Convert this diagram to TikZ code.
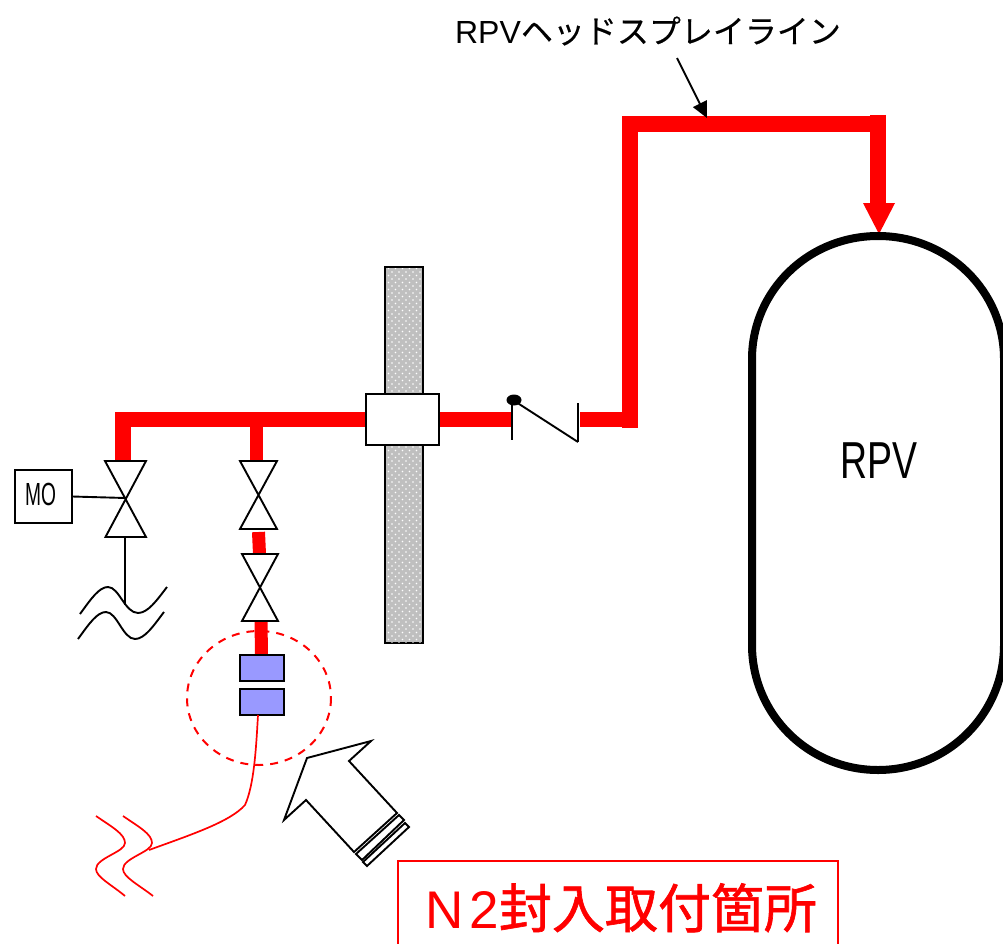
\documentclass[tikz,border=0pt]{standalone}
\usepackage{fontspec}
\usetikzlibrary{patterns,arrows.meta}
\setmainfont{Liberation Sans}
\newfontfamily\cjkfont[FakeBold=0.35]{Noto Sans CJK JP}
\newfontfamily\cjkbold[FakeBold=1.2]{Noto Sans CJK JP}
\newfontfamily\narrowfont[FakeStretch=0.72]{Liberation Sans}
\newfontfamily\narrowerfont[FakeStretch=0.6]{Liberation Sans}
\definecolor{pipered}{RGB}{255,0,0}
\definecolor{flangeblue}{RGB}{153,153,255}
\pgfdeclarepatternformonly{walldots}{\pgfqpoint{-1pt}{-1pt}}{\pgfqpoint{7pt}{7pt}}{\pgfqpoint{7pt}{7pt}}{%
  \pgfpathcircle{\pgfqpoint{0pt}{0pt}}{0.95pt}%
  \pgfpathcircle{\pgfqpoint{3.5pt}{3.5pt}}{0.95pt}%
  \pgfusepath{fill}}
\tikzset{
  pipe/.style={draw=pipered,line cap=butt,line join=miter},
  thickpipe/.style={pipe,line width=15.5pt},
  thinpipe/.style={pipe,line width=13pt},
  symbol/.style={draw=black,line width=1.9pt,fill=white,line join=miter},
  thinline/.style={draw=black,line width=1.9pt},
  wave/.style={draw=black,line width=1.9pt},
  redwave/.style={draw=pipered,line width=1.7pt},
  flange/.style={draw=black,line width=1.9pt,fill=flangeblue,minimum width=44pt,minimum height=26pt,inner sep=0pt,outer sep=0pt},
  wall/.style={draw=black,line width=1.8pt,fill=black!25},
  box/.style={draw=black,line width=1.8pt,fill=white,inner sep=0pt,outer sep=0pt},
}
\begin{document}
\begin{tikzpicture}[x=1pt,y=-1pt]
\useasboundingbox (0,0) rectangle (1003,944);
\clip (0,0) rectangle (1003,944);

% containment wall
\draw[wall] (385,267) rectangle (423,643);
\path[pattern=walldots,pattern color=white] (386,268) rectangle (422,642);

% pipes
\coordinate (v1top) at (123,461);
\coordinate (tee) at (256.5,419.5);
\coordinate (v2top) at (256.5,461);
\coordinate (chkL) at (511,419.5);
\coordinate (chkR) at (580,419.5);
\coordinate (riser) at (630,419.5);
\coordinate (riserB) at (630,428);
\coordinate (top2) at (878,124);
\coordinate (top2b) at (878,115);
\coordinate (drop) at (878,204);
\draw[thickpipe] (115.25,419.5) -- (chkL);
\draw[thickpipe] (v1top) -- (123,412);
\draw[thinpipe] (tee) -- (v2top);
\draw[thickpipe] (chkR) -- (riser);
\draw[thickpipe] (riserB) -- (630,116);
\draw[thickpipe] (622.25,124) -- (top2);
\draw[pipe,line width=16pt] (top2b) -- (drop);
\fill[pipered] (863,203) -- (895,203) -- (879,234) -- cycle;

\coordinate (p1a) at (258.5,532);
\coordinate (p1b) at (259.5,554);
\coordinate (p2a) at (261,621);
\coordinate (p2b) at (261.5,655);
\draw[thinpipe] (p1a) -- (p1b);
\draw[thinpipe] (p2a) -- (p2b);

% penetration
\node[box,minimum width=73pt,minimum height=51pt] (pen) at (402.5,419.5) {};

% check valve
\draw[thinline] (512,400) -- (512,440);
\draw[thinline] (578,403) -- (578,442);
\draw[thinline] (516,402) -- (578,442);
\fill (514,400) ellipse [x radius=7.5,y radius=5.5];

% valves
\draw[symbol] (105,461) -- (146,461) -- (105.5,537) -- (146,537) -- cycle;
\draw[symbol] (240,461) -- (277,461) -- (240,529) -- (277,529) -- cycle;
\draw[symbol] (242,554) -- (278,554) -- (242,621) -- (278,621) -- cycle;

% MO actuator
\node[box,minimum width=57.5pt,minimum height=53pt] (mo) at (43.5,496.5) {};
\node[inner sep=0pt,anchor=base,font=\narrowerfont\fontsize{32}{32}\selectfont] (motext) at (40.5,505) {MO};
\coordinate (v1c) at (125.5,498);
\draw[thinline] (mo.east) -- (v1c);
\coordinate (v1b) at (125,537);
\coordinate (v1e) at (125,605);
\draw[thinline] (v1b) -- (v1e);

% black pipe breaks
\draw[wave] (80,614) .. controls (91,599) and (99,587) .. (108,587)
  .. controls (119,587) and (125,613) .. (138,613)
  .. controls (148,613) and (157,600) .. (167,587);
\draw[wave] (78,639) .. controls (89,624) and (97,612) .. (106,612)
  .. controls (117,612) and (123,639) .. (135,639)
  .. controls (145,639) and (154,625) .. (164,612);

% flanges
\node[flange] (f1) at (262,668) {};
\node[flange] (f2) at (262,702) {};
\draw[pipered,line width=2pt,dash pattern=on 8pt off 7pt] (259,698) ellipse [x radius=72,y radius=67];

% red hose
\draw[redwave] (258,715) .. controls (256,750) and (254,785) .. (245,805)
  .. controls (230,822) and (190,835) .. (149,850);
\draw[redwave] (96,816) .. controls (112,827) and (125,834) .. (125,843)
  .. controls (125,852) and (96,858) .. (96,869)
  .. controls (96,877) and (112,885) .. (125,896);
\draw[redwave] (123,816) .. controls (139,827) and (152,834) .. (152,843)
  .. controls (152,852) and (123,858) .. (123,869)
  .. controls (123,877) and (139,885) .. (153,896);

% big pointer
\draw[symbol] (307,758) -- (371,741) -- (349,761) -- (397,813) -- (354,852) -- (306,800) -- (284,820) -- cycle;
\draw[symbol] (399,815) -- (404,820) -- (362,860) -- (356,854) -- cycle;
\draw[symbol] (405,823) -- (409,827) -- (367,866) -- (363,862) -- cycle;

% RPV
\draw[line width=8pt] (752,359) .. controls (752,291) and (808,236) .. (878,236)
  .. controls (948,236) and (1004,291) .. (1004,359)
  -- (1004,645) .. controls (1004,714) and (948,770) .. (878,770)
  .. controls (808,770) and (752,714) .. (752,645) -- cycle;
\node[font=\narrowfont\fontsize{52}{52}\selectfont,inner sep=0pt,anchor=base] (rpv) at (878.5,478) {RPV};

% labels
\node[inner sep=0pt,font=\fontsize{32}{32}\selectfont] (title) at (648,31) {RPV{\cjkfont ヘッドスプレイライン}};
\coordinate (lbltail) at (677,58);
\coordinate (lbltip) at (707,118);
\draw[line width=1.9pt,-{Triangle[length=16pt,width=15pt]}] (lbltail) -- (lbltip);

\draw[pipered,line width=1.8pt] (398,950) -- (398,861) -- (838,861) -- (838,950);
\node[text=pipered,inner sep=0pt,anchor=base west,font=\fontsize{53}{53}\selectfont] (n2) at (425,928) {N\hspace{6pt}2{\cjkbold 封入取付箇所}};
\end{tikzpicture}
\end{document}
